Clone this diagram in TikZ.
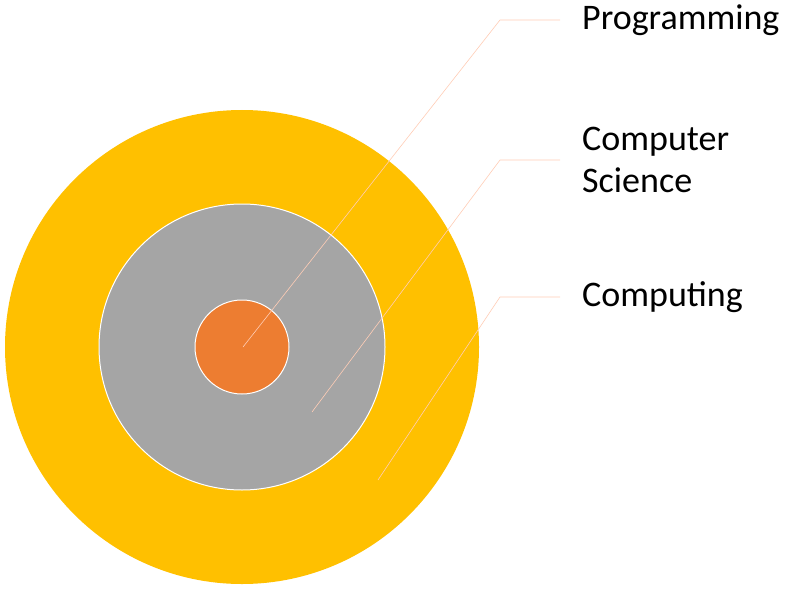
\documentclass[tikz,border=0pt]{standalone}
\usepackage{fontspec}
\setmainfont{Carlito}
\begin{document}
\begin{tikzpicture}[x=1pt,y=-1pt,
  ring/.style={draw=white,line width=1pt},
  lead/.style={draw=pink!70!orange!60,line width=0.6pt},
  lbl/.style={anchor=west,inner sep=0pt,font=\fontsize{36}{42}\selectfont,align=left}]
\useasboundingbox (0,0) rectangle (800,591);
\fill[fill={rgb,255:red,255;green,192;blue,0}] (242,347) circle (237);
\filldraw[ring,fill={rgb,255:red,165;green,165;blue,165}] (242,347) circle (143);
\filldraw[ring,fill={rgb,255:red,237;green,125;blue,49}] (242,347) circle (47);
\coordinate (p0) at (243,347); \coordinate (p1) at (500,20); \coordinate (p2) at (560,20);
\coordinate (c0) at (312,412); \coordinate (c1) at (500,160); \coordinate (c2) at (560,160);
\coordinate (u0) at (378,480); \coordinate (u1) at (500,297); \coordinate (u2) at (560,297);
\draw[lead] (p0) -- (p1) -- (p2);
\draw[lead] (c0) -- (c1) -- (c2);
\draw[lead] (u0) -- (u1) -- (u2);
\node[lbl] (tp) at (582,20) {Programming};
\node[lbl] (tc) at (582,160) {Computer\\Science};
\node[lbl] (tu) at (582,297) {Computing};
\end{tikzpicture}
\end{document}
